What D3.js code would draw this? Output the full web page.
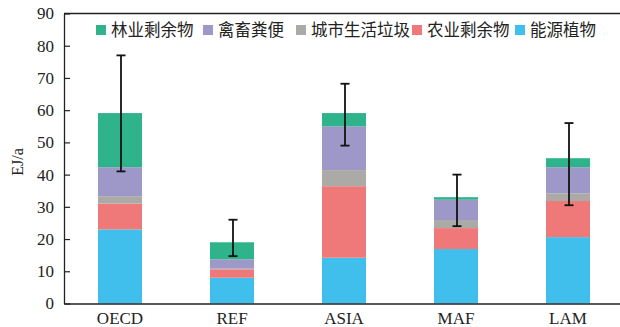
<!DOCTYPE html>
<html>
<head>
<meta charset="utf-8">
<script src="https://cdn.jsdelivr.net/npm/d3@7/dist/d3.min.js"></script>
<style>
  html, body { margin: 0; padding: 0; background: #fff; }
  svg { display: block; }
</style>
</head>
<body>
<svg id="chart" width="620" height="327"></svg>
<script>
// Biomass potential by region (EJ/a), stacked by resource type
const categories = ["OECD", "REF", "ASIA", "MAF", "LAM"];
const energyCrops = [23.0, 8.0, 14.2, 16.9, 20.6];   // 能源植物
const agResidue   = [8.0, 2.6, 22.2, 6.5, 11.2];     // 农业剩余物
const urbanWaste  = [2.3, 0.2, 5.0, 2.5, 2.4];       // 城市生活垃圾
const manure      = [9.0, 2.9, 13.6, 6.3, 8.1];      // 禽畜粪便
const forestry    = [16.8, 5.3, 4.1, 0.8, 2.8];      // 林业剩余物
const errLow  = [41, 14.7, 49, 24, 30.5];
const errHigh = [77, 26, 68.2, 40, 56];
const yTicks = [0, 10, 20, 30, 40, 50, 60, 70, 80, 90];
const seriesNames = ["能源植物", "农业剩余物", "城市生活垃圾", "禽畜粪便", "林业剩余物"];
const legendOrder = ["林业剩余物", "禽畜粪便", "城市生活垃圾", "农业剩余物", "能源植物"];

const colors = {
  "能源植物": "#40beec",
  "农业剩余物": "#ef7878",
  "城市生活垃圾": "#acaaa6",
  "禽畜粪便": "#9e98c9",
  "林业剩余物": "#2fb38a"
};

const seriesValues = [energyCrops, agResidue, urbanWaste, manure, forestry];
const table = categories.map((c, i) => {
  const row = { region: c };
  seriesNames.forEach((s, k) => { row[s] = seriesValues[k][i]; });
  return row;
});

const svg = d3.select("#chart");
const plotLeft = 64, plotRight = 624, plotTop = 13.5, plotBottom = 303.5;

const x = d3.scaleBand()
  .domain(categories)
  .range([plotLeft, plotRight])
  .paddingInner(0.607)
  .paddingOuter(0.3035);

const y = d3.scaleLinear().domain([0, 90]).range([plotBottom, plotTop]);

const stack = d3.stack().keys(seriesNames)(table);

// stacked bars
svg.append("g").selectAll("g")
  .data(stack)
  .join("g")
  .attr("fill", d => colors[d.key])
  .selectAll("rect")
  .data(d => d)
  .join("rect")
  .attr("x", d => x(d.data.region))
  .attr("width", x.bandwidth())
  .attr("y", d => y(d[1]))
  .attr("height", d => y(d[0]) - y(d[1]));

// error bars
const eb = svg.append("g").attr("stroke", "#111").attr("stroke-width", 1.8);
categories.forEach((c, i) => {
  const cx = x(c) + x.bandwidth() / 2 + 1;
  eb.append("line").attr("x1", cx).attr("x2", cx).attr("y1", y(errLow[i])).attr("y2", y(errHigh[i]));
  eb.append("line").attr("x1", cx - 4.5).attr("x2", cx + 4.5).attr("y1", y(errLow[i])).attr("y2", y(errLow[i]));
  eb.append("line").attr("x1", cx - 4.5).attr("x2", cx + 4.5).attr("y1", y(errHigh[i])).attr("y2", y(errHigh[i]));
});

// frame top line
svg.append("line")
  .attr("x1", plotLeft).attr("x2", plotRight)
  .attr("y1", plotTop).attr("y2", plotTop)
  .attr("stroke", "#222").attr("stroke-width", 1.3);

// y axis
const yAxis = svg.append("g")
  .attr("transform", `translate(${plotLeft},0)`)
  .call(d3.axisLeft(y).tickValues(yTicks).tickSizeInner(-6).tickSizeOuter(0).tickPadding(10));
yAxis.select(".domain").attr("stroke", "#222").attr("stroke-width", 1.3);
yAxis.selectAll(".tick line").attr("stroke", "#222").attr("stroke-width", 1.2);
yAxis.selectAll("text")
  .attr("font-family", "'Liberation Serif', 'Times New Roman', serif")
  .attr("font-size", 17).attr("fill", "#222");

// x axis
const xAxis = svg.append("g")
  .attr("transform", `translate(0,${plotBottom})`)
  .call(d3.axisBottom(x).tickSize(0).tickPadding(8));
xAxis.select(".domain").attr("stroke", "#222").attr("stroke-width", 1.3);
xAxis.selectAll("text")
  .attr("font-family", "'Liberation Serif', 'Times New Roman', serif")
  .attr("font-size", 17).attr("fill", "#222");

// y axis title
svg.append("text")
  .attr("transform", `translate(23,162) rotate(-90)`)
  .attr("text-anchor", "middle")
  .attr("font-family", "'Liberation Serif', 'Times New Roman', serif")
  .attr("font-size", 16).attr("fill", "#222")
  .text("EJ/a");

// legend
const legendX = [96, 203, 296, 412, 515];
const lg = svg.append("g");
legendOrder.forEach((name, i) => {
  lg.append("rect")
    .attr("x", legendX[i]).attr("y", 25)
    .attr("width", 10).attr("height", 10)
    .attr("fill", colors[name]);
  lg.append("text")
    .attr("x", legendX[i] + 15).attr("y", 36)
    .attr("font-family", "'Noto Sans CJK SC', sans-serif")
    .attr("font-size", 16.5).attr("fill", "#222")
    .text(name);
});
</script>
</body>
</html>
